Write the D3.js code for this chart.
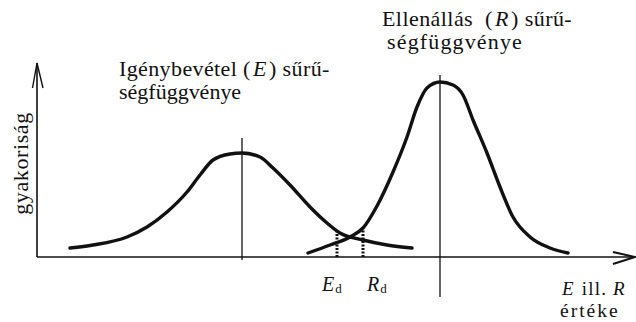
<!DOCTYPE html>
<html>
<head>
<meta charset="utf-8">
<script src="https://cdn.jsdelivr.net/npm/d3@7/dist/d3.min.js"></script>
<style>
html,body{margin:0;padding:0;background:#fff;}
svg{display:block;}
text{font-family:"Liberation Serif","Times New Roman",serif;fill:#111;white-space:pre;}
</style>
</head>
<body>
<script>
// Demand (E) density curve (x value, frequency)
const demandX = [33, 56, 90, 110, 130, 150, 163, 176, 193, 205, 223, 236, 253, 273, 290, 303, 326, 350, 375];
const demandY = [9, 12, 20, 30, 45, 65, 82, 97, 103, 104, 100, 89, 72, 50, 34, 24, 17, 12, 9];
// Resistance (R) density curve
const resistX = [271, 293, 313, 326, 340, 356, 370, 380, 390, 403, 416, 426, 436, 450, 463, 476, 493, 513, 531];
const resistY = [4, 12, 20, 29, 51, 85, 120, 150, 169, 175, 172, 162, 137, 104, 70, 40, 20, 9, 4];
// Means (vertical lines): x, top, bottom
const meanX = [205, 403];
const meanTop = [119, 182];
const meanBottom = [-3, -40];
// Design values E_d, R_d
const designX = [300, 326];
const designTop = [27, 30];
const designLabels = ["E", "R"];
// Texts
const demandTitle = ["Igénybevétel (", "E", ") sűrű-", "ségfüggvénye"];
const resistTitle = ["Ellenállás  (", "R", ") sűrű-", "ségfüggvénye"];
const yAxisLabel = "gyakoriság";
const xAxisLabel = ["E", " ill. ", "R", "értéke"];

const W = 636, H = 322;
const svg = d3.select("body").append("svg").attr("width", W).attr("height", H);

const x = d3.scaleLinear().domain([0, 600]).range([37, 637]);
const y = d3.scaleLinear().domain([0, 200]).range([257, 57]);

const ink = "#111";

// Axes
svg.append("line").attr("x1", x(0)).attr("x2", x(597)).attr("y1", y(0)).attr("y2", y(0))
  .attr("stroke", ink).attr("stroke-width", 1.6);
svg.append("line").attr("x1", x(0)).attr("x2", x(0)).attr("y1", y(0)).attr("y2", y(194))
  .attr("stroke", ink).attr("stroke-width", 1.6);
// Arrowheads
svg.append("path")
  .attr("d", `M${x(576)},${y(5)} L${x(598)},${y(0)} L${x(576)},${y(-7)}`)
  .attr("fill", "none").attr("stroke", ink).attr("stroke-width", 2);
svg.append("path")
  .attr("d", `M${x(-4.5)},${y(169)} L${x(0)},${y(194)} L${x(6)},${y(169)}`)
  .attr("fill", "none").attr("stroke", ink).attr("stroke-width", 1.4);

// Mean lines
meanX.forEach((m, i) => {
  svg.append("line").attr("x1", x(m)).attr("x2", x(m))
    .attr("y1", y(meanTop[i])).attr("y2", y(meanBottom[i]))
    .attr("stroke", ink).attr("stroke-width", 1.3);
});

// Design value dashed lines
designX.forEach((d, i) => {
  svg.append("line").attr("x1", x(d)).attr("x2", x(d))
    .attr("y1", y(0)).attr("y2", y(designTop[i]))
    .attr("stroke", ink).attr("stroke-width", 3).attr("stroke-dasharray", "2,1.5");
});

// Curves
const line = d3.line().x(d => x(d[0])).y(d => y(d[1])).curve(d3.curveMonotoneX);
svg.append("path").datum(d3.zip(demandX, demandY)).attr("d", line)
  .attr("fill", "none").attr("stroke", ink).attr("stroke-width", 3.4).attr("stroke-linecap", "round");
svg.append("path").datum(d3.zip(resistX, resistY)).attr("d", line)
  .attr("fill", "none").attr("stroke", ink).attr("stroke-width", 3.4).attr("stroke-linecap", "round");

// Titles (slightly widened serif, like the scanned original)
function titleBlock(parts, x1, b1, ls1, x2, b2, ls2) {
  const t = svg.append("text").attr("transform", `translate(${x1},${b1}) scale(1.1,1)`)
    .attr("font-size", 20).attr("letter-spacing", ls1);
  t.append("tspan").text(parts[0]);
  t.append("tspan").attr("font-style", "italic").attr("dx", 2).text(parts[1]);
  t.append("tspan").attr("dx", 2).text(parts[2]);
  svg.append("text").attr("transform", `translate(${x2},${b2}) scale(1.1,1)`)
    .attr("font-size", 20).attr("letter-spacing", ls2).text(parts[3]);
}
titleBlock(demandTitle, 119, 76, 0.35, 119, 98.5, 0);
titleBlock(resistTitle, 382, 26, 0.4, 387, 48.5, 1.05);

// Y axis label
svg.append("text").attr("transform", "translate(28,163.5) rotate(-90)")
  .attr("text-anchor", "middle").attr("font-size", 22)
  .attr("letter-spacing", 0.6).text(yAxisLabel);

// Design labels
const dLabelX = [322, 367];
designLabels.forEach((l, i) => {
  const t = svg.append("text").attr("x", dLabelX[i]).attr("y", 291).attr("font-size", 20);
  t.append("tspan").attr("font-style", "italic").text(l);
  t.append("tspan").attr("font-size", 13).attr("dx", 1).attr("dy", 2).text("d");
});

// X axis label
const xl = svg.append("text").attr("x", 562).attr("y", 295).attr("font-size", 19)
  .attr("letter-spacing", 1.2);
xl.append("tspan").attr("font-style", "italic").text(xAxisLabel[0]);
xl.append("tspan").attr("dx", 1).text(xAxisLabel[1]);
xl.append("tspan").attr("font-style", "italic").text(xAxisLabel[2]);
svg.append("text").attr("x", 560).attr("y", 317).attr("font-size", 19.5)
  .attr("letter-spacing", 2).text(xAxisLabel[3]);
</script>
</body>
</html>
